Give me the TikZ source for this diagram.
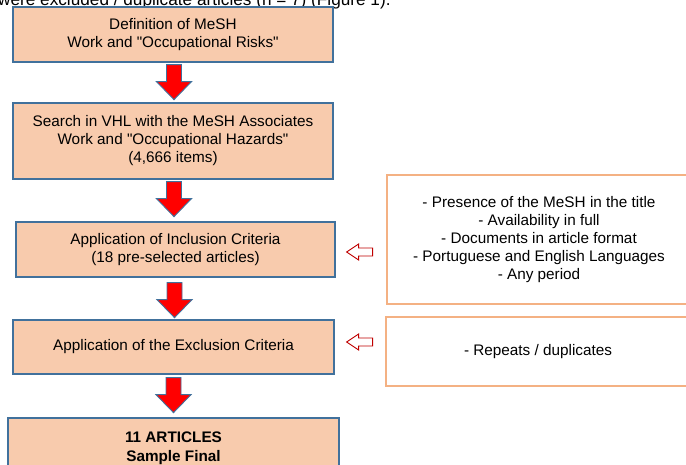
\documentclass[tikz,border=0pt]{standalone}
\usepackage{fontspec}
\setmainfont{Liberation Sans}[Ligatures=TeXOff]
\definecolor{peach}{HTML}{F8CBAD}
\definecolor{boxedge}{HTML}{41719C}
\definecolor{critedge}{HTML}{F4B183}
\definecolor{darkred}{HTML}{C00000}

\begin{document}
\begin{tikzpicture}[x=1pt, y=-1pt,
    stage/.style={draw=boxedge, line width=1.3pt, fill=peach, align=center, inner sep=0pt, font=\fontsize{15.3}{18}\selectfont},
    crit/.style={draw=critedge, line width=1.3pt, fill=white, align=center, inner sep=0pt, font=\fontsize{15.3}{17.8}\selectfont},
    downarrow/.pic={\filldraw[fill=red, draw=boxedge, line width=0.9pt] (-7.5,0) -- (7.5,0) -- (7.5,17) -- (17.5,17) -- (0,35) -- (-17.5,17) -- (-7.5,17) -- cycle;},
    leftarrow/.pic={\filldraw[fill=white, draw=darkred, line width=0.9pt] (0,0) -- (12,-8) -- (12,-4) -- (26,-4) -- (26,4) -- (12,4) -- (12,8) -- cycle;}]
  \useasboundingbox (0,0) rectangle (686,465);

  \node[anchor=base west, inner sep=0pt, font=\fontsize{17.2}{20}\selectfont] (intro) at (-2,6) {were excluded / duplicate articles (n = 7) (Figure 1).};

  \node[stage, minimum width=320pt, minimum height=55pt] (def) at (173,34.5) {Definition of MeSH\\Work and "Occupational Risks"};
  \node[stage, minimum width=320pt, minimum height=76pt] (search) at (173,141) {Search in VHL with the MeSH Associates\\Work and "Occupational Hazards"\\(4,666 items)};
  \node[stage, minimum width=319pt, minimum height=55pt] (incl) at (175.5,249.5) {Application of Inclusion Criteria\\(18 pre-selected articles)};
  \node[stage, minimum width=321pt, minimum height=54pt] (excl) at (173.5,347) {Application of the Exclusion Criteria};
  \node[stage, minimum width=331pt, minimum height=80pt, font=\fontsize{15.3}{19}\selectfont\bfseries, text depth=22pt] (final) at (173.5,458) {11 ARTICLES\\Sample Final};

  \node[crit, minimum width=304pt, minimum height=129pt] (inclcrit) at (539,239.5) {- Presence of the MeSH in the title\\- Availability in full\\- Documents in article format\\- Portuguese and English Languages\\- Any period};
  \node[crit, minimum width=304pt, minimum height=69pt] (exclcrit) at (538,351.5) {- Repeats / duplicates};

  \path (def.south) ++(1,2) pic {downarrow};
  \path (search.south) ++(1,2) pic {downarrow};
  \path (incl.south) ++(-1,5) pic {downarrow};
  \path (excl.south) ++(0,3) pic {downarrow};

  \path (incl.east) ++(11,2.5) pic {leftarrow};
  \path (excl.east) ++(12,-5) pic {leftarrow};
\end{tikzpicture}
\end{document}
